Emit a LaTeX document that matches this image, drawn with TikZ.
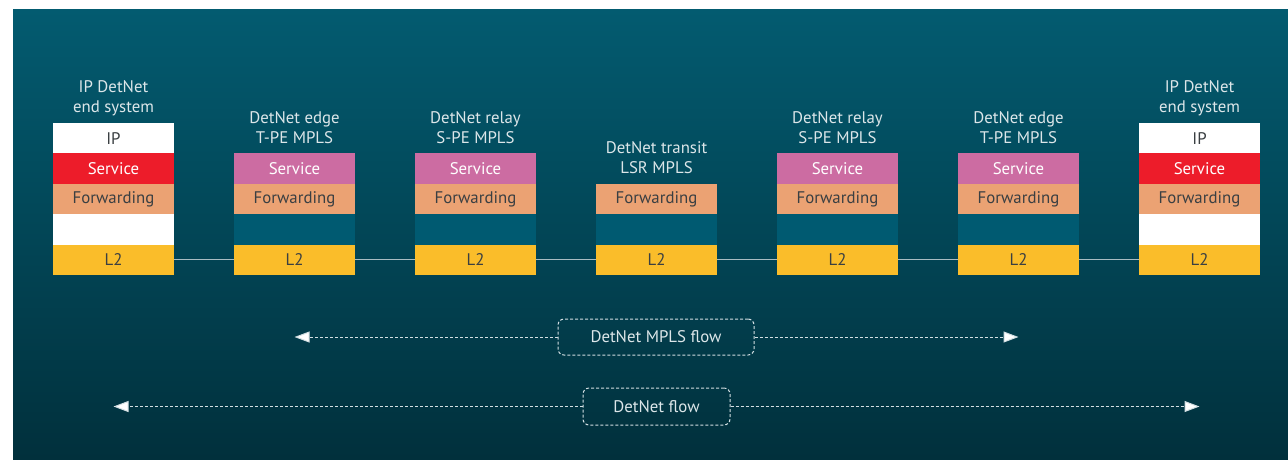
\documentclass[tikz,border=0pt]{standalone}
\usepackage{fontspec}
\setmainfont{PT Sans}
\usetikzlibrary{arrows.meta}
\definecolor{bgtop}{HTML}{035B70}
\definecolor{bgbot}{HTML}{01303C}
\definecolor{svcred}{HTML}{ED1C2A}
\definecolor{svcpink}{HTML}{CC6CA2}
\definecolor{fwdorange}{HTML}{EBA273}
\definecolor{ltwo}{HTML}{FABD2A}
\definecolor{emptyteal}{HTML}{005A71}
\definecolor{darktext}{HTML}{3A3F42}
\definecolor{lighttext}{HTML}{DCE6E9}
\definecolor{linkgrey}{HTML}{A9BCC2}
\definecolor{flowgrey}{HTML}{D2DEE2}
\begin{document}
\begin{tikzpicture}[x=1pt,y=-1pt,
  layer/.style={minimum width=121pt, minimum height=30.4pt, inner sep=0pt, outer sep=0pt,
    anchor=north west, font=\fontsize{16.8}{17}\selectfont, text=darktext},
  whitetxt/.style={text=white},
  lbl/.style={anchor=south, align=center, inner sep=0pt, text depth=0pt, text=lighttext,
    font=\fontsize{16.8}{20}\selectfont},
  link/.style={draw=linkgrey, line width=1pt},
  flowbox/.style={draw=flowgrey, dashed, dash pattern=on 3pt off 2pt, line width=1pt,
    rounded corners=6pt, text=lighttext, font=\fontsize{16.8}{17}\selectfont, inner sep=0pt},
  flowline/.style={draw=flowgrey, line width=1pt, dash pattern=on 3pt off 2pt,
    -{Triangle[length=15pt,width=11pt,fill=white]}}
]
\useasboundingbox (0,0) rectangle (1288,459);
\fill[white] (0,0) rectangle (1288,459);
\shade[top color=bgtop, bottom color=bgbot] (13,9) rectangle (1288,459);

% column 1: end system
\node[lbl] (t1) at (113.5,113) {IP DetNet\\end system};
\node[layer, fill=white] (c1ip) at (53,123) {IP};
\node[layer, fill=svcred, whitetxt] (c1svc) at (53,153.4) {Service};
\node[layer, fill=fwdorange] (c1fwd) at (53,183.8) {Forwarding};
\node[layer, fill=white] (c1emp) at (53,214.2) {};
\node[layer, fill=ltwo] (c1l2) at (53,244.6) {L2};

% column 2: edge
\node[lbl] (t2) at (294.5,144) {DetNet edge\\T-PE MPLS};
\node[layer, fill=svcpink, whitetxt] (c2svc) at (234,153.4) {Service};
\node[layer, fill=fwdorange] (c2fwd) at (234,183.8) {Forwarding};
\node[layer, fill=emptyteal] (c2emp) at (234,214.2) {};
\node[layer, fill=ltwo] (c2l2) at (234,244.6) {L2};

% column 3: relay
\node[lbl] (t3) at (475.5,144) {DetNet relay\\S-PE MPLS};
\node[layer, fill=svcpink, whitetxt] (c3svc) at (415,153.4) {Service};
\node[layer, fill=fwdorange] (c3fwd) at (415,183.8) {Forwarding};
\node[layer, fill=emptyteal] (c3emp) at (415,214.2) {};
\node[layer, fill=ltwo] (c3l2) at (415,244.6) {L2};

% column 4: transit
\node[lbl] (t4) at (656.5,174) {DetNet transit\\LSR MPLS};
\node[layer, fill=fwdorange] (c4fwd) at (596,183.8) {Forwarding};
\node[layer, fill=emptyteal] (c4emp) at (596,214.2) {};
\node[layer, fill=ltwo] (c4l2) at (596,244.6) {L2};

% column 5: relay
\node[lbl] (t5) at (837.5,144) {DetNet relay\\S-PE MPLS};
\node[layer, fill=svcpink, whitetxt] (c5svc) at (777,153.4) {Service};
\node[layer, fill=fwdorange] (c5fwd) at (777,183.8) {Forwarding};
\node[layer, fill=emptyteal] (c5emp) at (777,214.2) {};
\node[layer, fill=ltwo] (c5l2) at (777,244.6) {L2};

% column 6: edge
\node[lbl] (t6) at (1018.5,144) {DetNet edge\\T-PE MPLS};
\node[layer, fill=svcpink, whitetxt] (c6svc) at (958,153.4) {Service};
\node[layer, fill=fwdorange] (c6fwd) at (958,183.8) {Forwarding};
\node[layer, fill=emptyteal] (c6emp) at (958,214.2) {};
\node[layer, fill=ltwo] (c6l2) at (958,244.6) {L2};

% column 7: end system
\node[lbl] (t7) at (1199.5,113) {IP DetNet\\end system};
\node[layer, fill=white] (c7ip) at (1139,123) {IP};
\node[layer, fill=svcred, whitetxt] (c7svc) at (1139,153.4) {Service};
\node[layer, fill=fwdorange] (c7fwd) at (1139,183.8) {Forwarding};
\node[layer, fill=white] (c7emp) at (1139,214.2) {};
\node[layer, fill=ltwo] (c7l2) at (1139,244.6) {L2};

% links
\draw[link] (c1l2.east) -- (c2l2.west);
\draw[link] (c2l2.east) -- (c3l2.west);
\draw[link] (c3l2.east) -- (c4l2.west);
\draw[link] (c4l2.east) -- (c5l2.west);
\draw[link] (c5l2.east) -- (c6l2.west);
\draw[link] (c6l2.east) -- (c7l2.west);

% flows
\node[flowbox, minimum width=196pt, minimum height=36pt] (mpls) at (656,337) {DetNet MPLS flow};
\coordinate (mplsL) at (294.5,337);
\coordinate (mplsR) at (1018.5,337);
\draw[flowline] (mpls.west) -- (mplsL);
\draw[flowline] (mpls.east) -- (mplsR);

\node[flowbox, minimum width=147pt, minimum height=37pt] (dflow) at (656.5,406.5) {DetNet flow};
\coordinate (dflowL) at (113.5,406.5);
\coordinate (dflowR) at (1199.5,406.5);
\draw[flowline] (dflow.west) -- (dflowL);
\draw[flowline] (dflow.east) -- (dflowR);
\end{tikzpicture}
\end{document}
